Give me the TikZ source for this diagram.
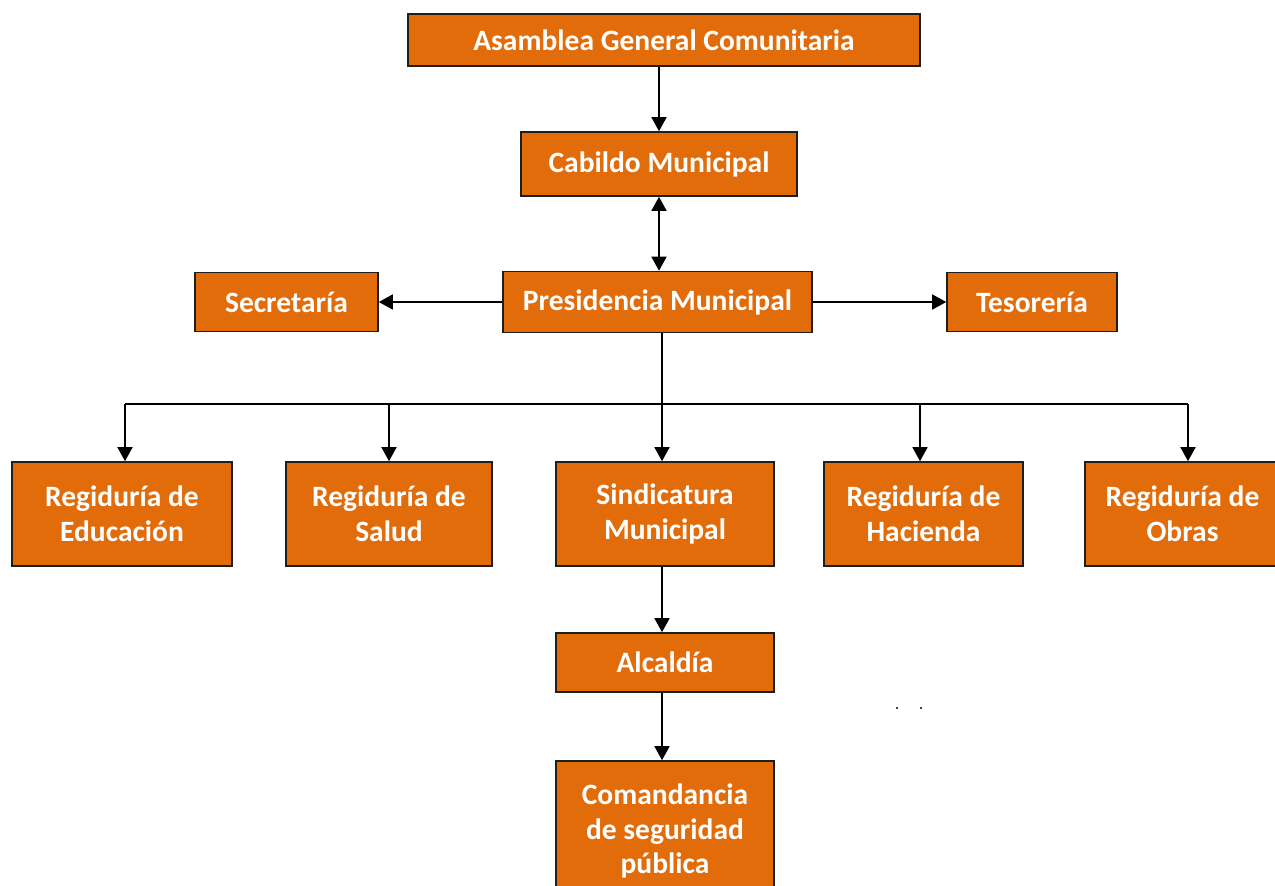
\documentclass[tikz,border=0pt]{standalone}
\usepackage{fontspec}
\setmainfont{Carlito}
\usetikzlibrary{arrows.meta}
\definecolor{naranja}{RGB}{226,108,10}
\definecolor{borde}{RGB}{30,30,30}
\tikzset{
  caja/.style={draw=borde, line width=0.9pt, fill=naranja, text=white, inner sep=0pt,
    align=center, font=\fontsize{16.8}{19.8}\selectfont\bfseries},
  flecha/.style={line width=1.1pt, -{Triangle[width=8.5pt,length=8pt]}},
  doble/.style={line width=1.1pt, {Triangle[width=8.5pt,length=8pt]}-{Triangle[width=8.5pt,length=8pt]}},
  linea/.style={line width=0.7pt}
}
\begin{document}
\begin{tikzpicture}[x=0.02cm, y=-0.02cm]
    \useasboundingbox (0,0) rectangle (1275,886);

    % Cajas oberes
    \node[caja, minimum width=10.24cm, minimum height=1.04cm] (asamblea) at (664,40) {Asamblea General Comunitaria};
    \node[caja, minimum width=5.52cm, minimum height=1.28cm] (cabildo) at (659,164) {Cabildo Municipal};
    \node[caja, minimum width=3.66cm, minimum height=1.18cm] (secretaria) at (286.5,302) {Secretaría};
    \node[caja, minimum width=6.18cm, minimum height=1.22cm] (presidencia) at (657.5,302) {Presidencia Municipal};
    \node[caja, minimum width=3.40cm, minimum height=1.18cm] (tesoreria) at (1032,302) {Tesorería};

    % Regidurias
    \node[caja, minimum width=4.40cm, minimum height=2.08cm] (educacion) at (122,514) {Regiduría de\\Educación};
    \node[caja, minimum width=4.12cm, minimum height=2.08cm] (salud) at (389,514) {Regiduría de\\Salud};
    \node[caja, minimum width=4.36cm, minimum height=2.08cm] (sindicatura) at (665,514) {Sindicatura\\Municipal};
    \node[caja, minimum width=3.98cm, minimum height=2.08cm] (hacienda) at (923.5,514) {Regiduría de\\Hacienda};
    \node[caja, minimum width=3.90cm, minimum height=2.08cm] (obras) at (1182.5,514) {Regiduría de\\Obras};

    % Cajas unten
    \node[caja, minimum width=4.36cm, minimum height=1.18cm] (alcaldia) at (665,662.5) {Alcaldía};
    \node[caja, minimum width=4.36cm, minimum height=2.80cm] (comandancia) at (665,831) {Comandancia\\de seguridad\\pública};

    % Verbindungen
    \draw[flecha] (asamblea.south -| cabildo.north) -- (cabildo.north);
    \draw[doble] (cabildo.south) -- (cabildo.south |- presidencia.north);
    \draw[flecha] (presidencia.west) -- (secretaria.east);
    \draw[flecha] (presidencia.east) -- (tesoreria.west);

    % Verteiler
    \coordinate (bus) at (662,404);
    \coordinate (b1) at (125,404);
    \coordinate (b4) at (920,404);
    \coordinate (b5) at (1188,404);
    \draw[linea] (presidencia.south -| bus) -- (bus);
    \draw[linea] (b1) -- (b5);
    \draw[flecha] (b1) -- (b1 |- educacion.north);
    \draw[flecha] (bus -| salud.north) -- (salud.north);
    \draw[flecha] (bus) -- (bus |- sindicatura.north);
    \draw[flecha] (b4) -- (b4 |- hacienda.north);
    \draw[flecha] (b5) -- (b5 |- obras.north);

    \draw[flecha] (sindicatura.south -| bus) -- (bus |- alcaldia.north);
    \draw[flecha] (alcaldia.south -| bus) -- (bus |- comandancia.north);

    % Punkte
    \fill[black] (897,708) circle (1.1);
    \fill[black] (921,708) circle (1.1);
\end{tikzpicture}
\end{document}
